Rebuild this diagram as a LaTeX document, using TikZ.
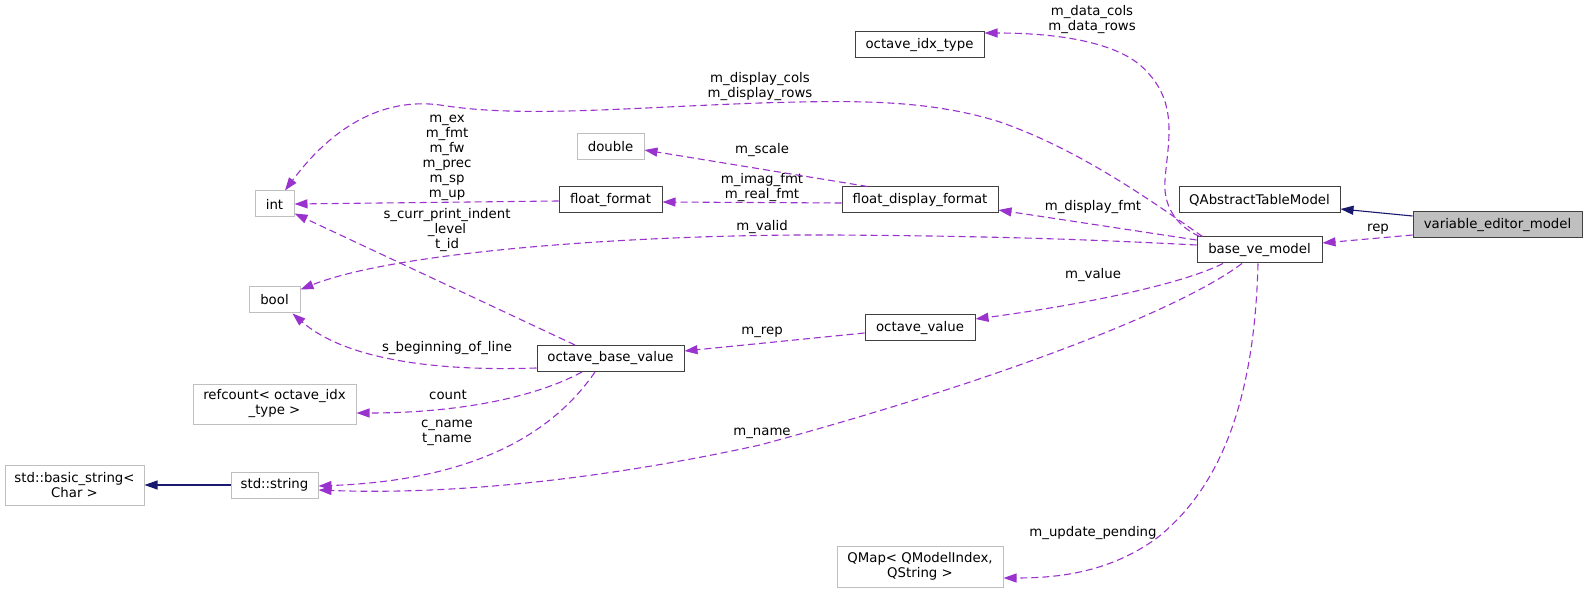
\documentclass[tikz,border=0pt]{standalone}
\usepackage{fontspec}
\setmainfont{DejaVu Sans}
\usetikzlibrary{arrows.meta,positioning}
\definecolor{EdgePurple}{HTML}{9A32CD}
\definecolor{EdgeNavy}{HTML}{191970}
\definecolor{BoxLine}{HTML}{404040}
\definecolor{ExtLine}{HTML}{BFBFBF}
\definecolor{FocusFill}{HTML}{BFBFBF}
\tikzset{
  basebox/.style={rectangle,draw,line width=1pt,fill=white,inner sep=0pt,
    align=center,font=\fontsize{13.3}{15}\selectfont,minimum height=26pt},
  docbox/.style={basebox,draw=BoxLine},
  extbox/.style={basebox,draw=ExtLine},
  focusbox/.style={docbox,fill=FocusFill},
  usearrow/.style={-{Triangle[length=13pt,width=9pt]},line width=1.1pt,
    color=EdgePurple,dash pattern=on 7pt off 4pt},
  inheritarrow/.style={-{Triangle[length=13pt,width=9pt]},line width=1.1pt,
    color=EdgeNavy},
  elabel/.style={align=center,inner sep=0pt,font=\fontsize{13.3}{15}\selectfont}
}
\begin{document}
\begin{tikzpicture}[x=1pt,y=-1pt]
  \useasboundingbox (0,0) rectangle (1587,593);
  % classes
  \node[focusbox,minimum width=169pt] (vem) at (1497.5,225) {variable\_editor\_model};
  \node[docbox,minimum width=161pt] (qatm) at (1259.5,200) {QAbstractTableModel};
  \node[docbox,minimum width=125pt] (bvm) at (1259.5,250) {base\_ve\_model};
  \node[docbox,minimum width=129pt] (oit) at (919.5,45) {octave\_idx\_type};
  \node[docbox,minimum width=156pt] (fdf) at (920,200) {float\_display\_format};
  \node[docbox,minimum width=110pt] (ov) at (920,328) {octave\_value};
  \node[extbox,minimum width=166pt,minimum height=41pt] (qmap) at (920,566.5) {QMap< QModelIndex,\\QString >};
  \node[extbox,minimum width=67pt] (dbl) at (610.5,146.5) {double};
  \node[docbox,minimum width=103pt] (ff) at (610.5,200) {float\_format};
  \node[docbox,minimum width=147pt] (obv) at (610.5,358.5) {octave\_base\_value};
  \node[extbox,minimum width=39pt] (intt) at (274.5,204) {int};
  \node[extbox,minimum width=51pt] (boolt) at (274.5,300) {bool};
  \node[extbox,minimum width=163pt,minimum height=40pt] (refc) at (274.5,404) {refcount< octave\_idx\\\_type >};
  \node[extbox,minimum width=87pt] (str) at (274.5,485) {std::string};
  \node[extbox,minimum width=139pt,minimum height=40pt] (bstr) at (74.5,485) {std::basic\_string<\\Char >};

  % inheritance
  \draw[inheritarrow] ([yshift=9pt]vem.west) -- ([yshift=-9pt]qatm.east);
  \draw[inheritarrow] (str.west) -- (bstr.east);

  % members
  \draw[usearrow] ([yshift=-10pt]vem.west) -- ([yshift=7pt]bvm.east);
  \node[elabel] (lrep) at (1378,229) {rep};

  \draw[usearrow] ([xshift=3pt]bvm.north west) .. controls (1175,225) and (1163,205) .. (1165,180)
    .. controls (1168,140) and (1180,100) .. (1140,65) .. controls (1110,40) and (1050,33) .. ([yshift=12pt]oit.east);
  \node[elabel] (ldata) at (1092,19.5) {m\_data\_cols\\m\_data\_rows};

  \draw[usearrow] ([xshift=6pt]bvm.north west) .. controls (1150,200) and (1080,150) .. (1000,122)
    .. controls (930,100) and (860,100) .. (760,103) .. controls (620,108) and (520,118) .. (440,105)
    .. controls (380,97) and (330,130) .. ([xshift=10.5pt]intt.north);
  \node[elabel] (ldisp) at (760,86.5) {m\_display\_cols\\m\_display\_rows};

  \draw[usearrow] ([yshift=-1pt]ff.west) -- (intt.east);
  \node[elabel] (lfmt) at (447,158) {m\_ex\\m\_fmt\\m\_fw\\m\_prec\\m\_sp\\m\_up};

  \draw[usearrow] ([yshift=-3pt]fdf.west) -- ([yshift=-2pt]ff.east);
  \node[elabel] (limag) at (762,187.5) {m\_imag\_fmt\\m\_real\_fmt};

  \draw[usearrow] ([xshift=26pt]fdf.north west) -- ([yshift=-3.5pt]dbl.east);
  \node[elabel] (lscale) at (762,150) {m\_scale};

  \draw[usearrow] ([yshift=10pt]bvm.west) -- ([yshift=-10pt]fdf.east);
  \node[elabel] (ldfmt) at (1093,207) {m\_display\_fmt};

  \draw[usearrow] ([yshift=5pt]bvm.west) .. controls (1100,240) and (1000,236) .. (833,235)
    .. controls (650,234) and (400,250) .. ([yshift=-3pt]boolt.north east);
  \node[elabel] (lvalid) at (762,227) {m\_valid};

  \draw[usearrow] ([xshift=-36.5pt]bvm.south) .. controls (1180,285) and (1080,305) .. ([yshift=9pt]ov.east);
  \node[elabel] (lvalue) at (1093,275) {m\_value};

  \draw[usearrow] ([xshift=-17.5pt]bvm.south) .. controls (1180,310) and (1000,380) .. (760,445)
    .. controls (600,480) and (450,495) .. ([yshift=-5pt]str.east);
  \node[elabel] (lname) at (762,433) {m\_name};

  \draw[usearrow] ([xshift=-1.5pt]bvm.south) .. controls (1255,380) and (1230,480) .. (1157,538)
    .. controls (1110,572) and (1060,578) .. ([yshift=-11.5pt]qmap.east);
  \node[elabel] (lupd) at (1093,533) {m\_update\_pending};

  \draw[usearrow] ([yshift=-5pt]ov.west) -- ([yshift=7.5pt]obv.east);
  \node[elabel] (lrep2) at (762,332) {m\_rep};

  \draw[usearrow] ([xshift=-35.5pt]obv.north) -- ([yshift=4pt]intt.south east);
  \node[elabel] (lindent) at (447,230) {s\_curr\_print\_indent\\\_level\\t\_id};

  \draw[usearrow] ([yshift=-9.5pt]obv.west) .. controls (420,372) and (340,355) .. ([xshift=-8pt]boolt.south east);
  \node[elabel] (lbol) at (447,348) {s\_beginning\_of\_line};

  \draw[usearrow] ([xshift=-28.5pt]obv.south) .. controls (530,400) and (450,413) .. ([yshift=-9pt]refc.east);
  \node[elabel] (lcount) at (448,395) {count};

  \draw[usearrow] ([xshift=-15.5pt]obv.south) .. controls (555,430) and (480,480) .. ([yshift=-1pt]str.east);
  \node[elabel] (lcname) at (447,432.5) {c\_name\\t\_name};
\end{tikzpicture}
\end{document}
